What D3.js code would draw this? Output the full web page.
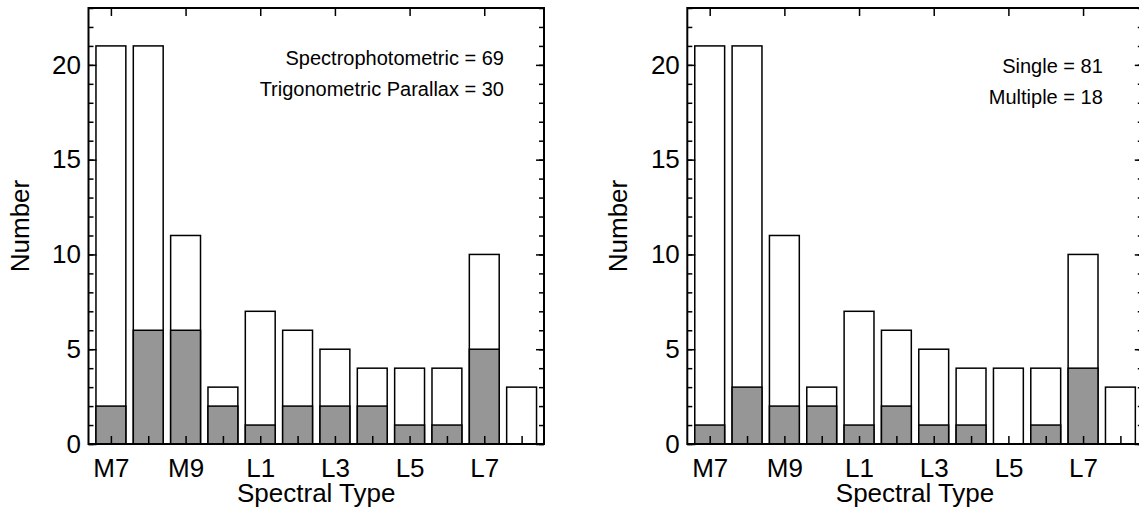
<!DOCTYPE html>
<html lang="en">
<head>
<meta charset="utf-8">
<style>
  body { margin: 0; background: #fff; }
  svg text { font-family: "Liberation Sans", Arial, Helvetica, sans-serif; fill: #000; }
  .bar { stroke: #000; stroke-width: 1.5; }
  .tick line { stroke: #000; stroke-width: 1.5; }
  .frame { fill: none; stroke: #000; stroke-width: 2; }
</style>
</head>
<body>
<div id="chart"></div>
<script src="https://d3js.org/d3.v7.min.js"></script>
<script>
// spectral types along x
var categories = ["M7", "M8", "M9", "L0", "L1", "L2", "L3", "L4", "L5", "L6", "L7", "L8"];
// total count per spectral type (both panels)
var totals = [21, 21, 11, 3, 7, 6, 5, 4, 4, 4, 10, 3];
// grey part, left panel: trigonometric parallax
var parallax = [2, 6, 6, 2, 1, 2, 2, 2, 1, 1, 5, 0];
// grey part, right panel: multiple systems
var multiple = [1, 3, 2, 2, 1, 2, 1, 1, 0, 1, 4, 0];
var yTicks = [0, 5, 10, 15, 20];
var yMinor = [0, 1, 2, 3, 4, 5, 6, 7, 8, 9, 10, 11, 12, 13, 14, 15, 16, 17, 18, 19, 20, 21, 22, 23];
var leftNotes = ["Spectrophotometric = 69", "Trigonometric Parallax = 30"];
var rightNotes = ["Single = 81", "Multiple = 18"];

var W = 1139, H = 514;
var svg = d3.select("#chart").append("svg")
    .attr("width", W)
    .attr("height", H);

var pw = 455.5, plotTop = 8, plotBottom = 444;

var x = d3.scaleLinear().domain([-0.6, 11.6]).range([0, pw]);
var y = d3.scaleLinear().domain([0, 23]).range([plotBottom, plotTop]);
var bw = x(0.8) - x(0);

function panel(left, grey, notes, noteY) {
  var g = svg.append("g").attr("transform", "translate(" + left + ",0)");

  // white total bars
  g.selectAll(".tot")
    .data(totals)
    .enter().append("rect")
      .attr("class", "bar")
      .attr("fill", "#fff")
      .attr("x", function(d, i) { return x(i) - bw / 2; })
      .attr("width", bw)
      .attr("y", function(d) { return y(d); })
      .attr("height", function(d) { return y(0) - y(d); });

  // grey sub-sample bars
  g.selectAll(".sub")
    .data(grey.map(function(v, i) { return {v: v, i: i}; }).filter(function(d) { return d.v > 0; }))
    .enter().append("rect")
      .attr("class", "bar")
      .attr("fill", "#969696")
      .attr("x", function(d) { return x(d.i) - bw / 2; })
      .attr("width", bw)
      .attr("y", function(d) { return y(d.v); })
      .attr("height", function(d) { return y(0) - y(d.v); });

  var idx = d3.range(categories.length);

  // bottom axis: ticks at every bar, labels every other
  var xb = g.append("g")
    .attr("transform", "translate(0," + plotBottom + ")")
    .call(d3.axisBottom(x).tickValues(idx).tickSize(-8).tickPadding(15)
      .tickFormat(function(i) { return i % 2 === 0 ? categories[i] : ""; }));
  xb.select(".domain").remove();
  xb.selectAll("text").attr("font-size", 26).attr("font-family", null);

  // top axis: only labelled positions
  var xt = g.append("g")
    .attr("transform", "translate(0," + plotTop + ")")
    .call(d3.axisTop(x).tickValues(idx.filter(function(i) { return i % 2 === 0; }))
      .tickSize(-8).tickFormat(""));
  xt.select(".domain").remove();

  // left axis
  var yl = g.append("g")
    .call(d3.axisLeft(y).tickValues(yTicks).tickSize(-8).tickPadding(7.5));
  yl.select(".domain").remove();
  yl.selectAll("text").attr("font-size", 26).attr("font-family", null);
  g.append("g")
    .call(d3.axisLeft(y).tickValues(yMinor).tickSize(-5).tickFormat(""))
    .select(".domain").remove();

  // right axis
  var yr = g.append("g")
    .attr("transform", "translate(" + pw + ",0)");
  yr.call(d3.axisRight(y).tickValues(yTicks).tickSize(-8).tickFormat(""));
  yr.select(".domain").remove();
  var yr2 = g.append("g")
    .attr("transform", "translate(" + pw + ",0)");
  yr2.call(d3.axisRight(y).tickValues(yMinor).tickSize(-5).tickFormat(""));
  yr2.select(".domain").remove();

  g.append("rect")
    .attr("class", "frame")
    .attr("x", 0).attr("y", plotTop)
    .attr("width", pw).attr("height", plotBottom - plotTop);

  g.append("text")
    .attr("x", pw / 2)
    .attr("y", 502)
    .attr("text-anchor", "middle")
    .attr("font-size", 26)
    .text("Spectral Type");

  g.append("text")
    .attr("transform", "translate(-60," + ((plotTop + plotBottom) / 2) + ") rotate(-90)")
    .attr("text-anchor", "middle")
    .attr("font-size", 26)
    .text("Number");

  g.selectAll(".note")
    .data(notes)
    .enter().append("text")
      .attr("x", pw - 40)
      .attr("y", function(d, i) { return noteY + i * 31; })
      .attr("text-anchor", "end")
      .attr("font-size", 20)
      .text(function(d) { return d; });
}

panel(88.5, parallax, leftNotes, 65);
panel(687.3, multiple, rightNotes, 73);
</script>
</body>
</html>
